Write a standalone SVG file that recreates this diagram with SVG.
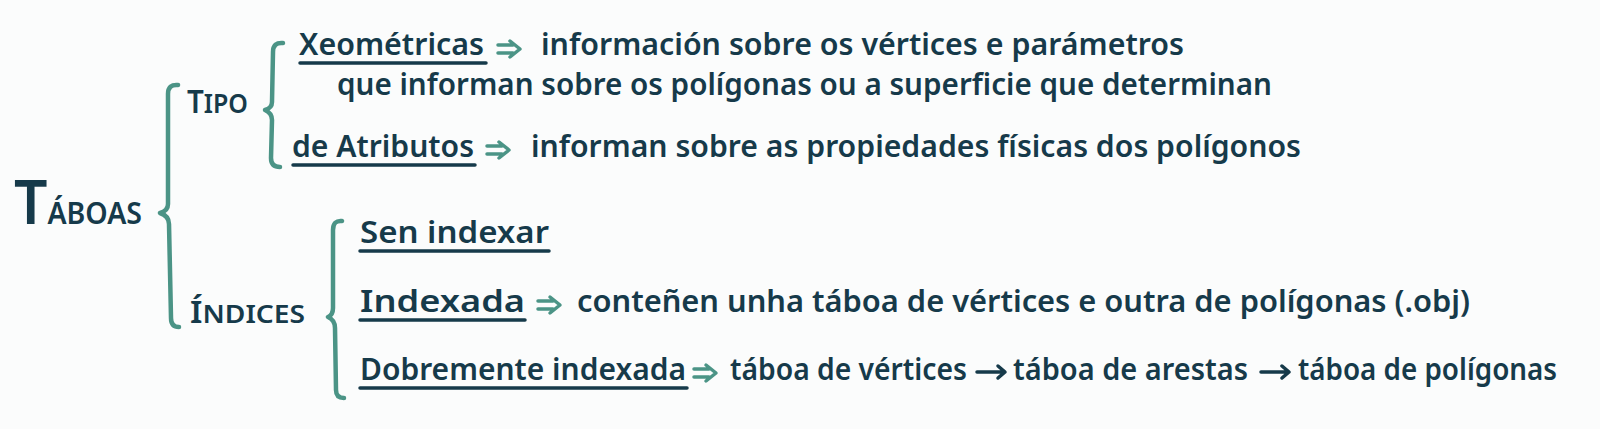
<svg xmlns="http://www.w3.org/2000/svg" width="1600" height="429" viewBox="0 0 1600 429">
  <style>
    .t { font-family: "Noto Sans", "Liberation Sans", sans-serif; font-weight: 600; fill: #163a4a; font-size: 30px; }
    .ul { stroke: #163a4a; stroke-width: 3.5; stroke-linecap: round; fill: none; }
    .br { stroke: #4b9486; stroke-width: 4.5; stroke-linecap: round; stroke-linejoin: round; fill: none; }
    .dar { stroke: #4b9486; stroke-width: 3.5; stroke-linecap: round; stroke-linejoin: round; fill: none; }
    .sar { stroke: #163a4a; stroke-width: 3.5; stroke-linecap: round; stroke-linejoin: round; fill: none; }
  </style>
  <defs>
    <g id="dbl">
      <path d="M0,-4 H15 M0,4 H15 M12,-8 L22,0 L12,8" />
    </g>
    <g id="sgl">
      <path d="M0,0 H27 M21,-6 L28,0 L21,6" />
    </g>
  </defs>
  <rect x="0" y="0" width="1600" height="429" fill="#fbfcfc"/>

  <g id="connectors">
    <path class="br" d="M178,85 Q168,84 168,94 L168,204 Q168,211 160,213 Q169,216 169,224 L171,318 Q171,327 179,327"/>
    <path class="br" d="M283,43 Q273,42 273,52 L272,102 Q272,108 265,110 Q272,113 272,120 L271,158 Q271,167 280,167"/>
    <path class="br" d="M342,221 Q333,220 333,230 L333,308 Q333,315 328,317 Q335,320 335,328 L336,390 Q336,398 344,398"/>
    <use href="#dbl" class="dar" x="498" y="49"/>
    <use href="#dbl" class="dar" x="487" y="150"/>
    <use href="#dbl" class="dar" x="538" y="305"/>
    <use href="#dbl" class="dar" x="694" y="373"/>
    <use href="#sgl" class="sar" x="977" y="372"/>
    <use href="#sgl" class="sar" x="1261" y="372"/>
  </g>

  <g id="taboas">
    <text class="t" x="14" y="224" textLength="128" lengthAdjust="spacingAndGlyphs"><tspan font-size="62">T</tspan><tspan font-size="30">ÁBOAS</tspan></text>
  </g>

  <g id="tipo">
    <text class="t" x="187" y="113" textLength="61" lengthAdjust="spacingAndGlyphs"><tspan font-size="32">T</tspan><tspan font-size="27">IPO</tspan></text>
  </g>

  <g id="indices">
    <text class="t" x="190" y="323" textLength="115" lengthAdjust="spacingAndGlyphs"><tspan font-size="31">Í</tspan><tspan font-size="26">NDICES</tspan></text>
  </g>

  <g id="xeometricas">
    <text class="t" x="299" y="55" textLength="185" lengthAdjust="spacingAndGlyphs">Xeométricas</text>
    <line class="ul" x1="300" y1="63" x2="486" y2="63"/>
    <text class="t" x="541" y="55" textLength="643" lengthAdjust="spacingAndGlyphs">información sobre os vértices e parámetros</text>
    <text class="t" x="337" y="95" textLength="935" lengthAdjust="spacingAndGlyphs">que informan sobre os polígonas ou a superficie que determinan</text>
  </g>

  <g id="atributos">
    <text class="t" x="292" y="157" textLength="182" lengthAdjust="spacingAndGlyphs">de Atributos</text>
    <line class="ul" x1="293" y1="165" x2="475" y2="165"/>
    <text class="t" x="531" y="157" textLength="770" lengthAdjust="spacingAndGlyphs">informan sobre as propiedades físicas dos polígonos</text>
  </g>

  <g id="sen-indexar">
    <text class="t" x="360" y="243" textLength="189" lengthAdjust="spacingAndGlyphs">Sen indexar</text>
    <line class="ul" x1="360" y1="251" x2="549" y2="251"/>
  </g>

  <g id="indexada">
    <text class="t" x="360" y="312" textLength="165" lengthAdjust="spacingAndGlyphs">Indexada</text>
    <line class="ul" x1="360" y1="320" x2="525" y2="320"/>
    <text class="t" x="577" y="312" textLength="893" lengthAdjust="spacingAndGlyphs">conteñen unha táboa de vértices e outra de polígonas (.obj)</text>
  </g>

  <g id="dobremente">
    <text class="t" x="360" y="380" textLength="326" lengthAdjust="spacingAndGlyphs">Dobremente indexada</text>
    <line class="ul" x1="360" y1="388" x2="687" y2="388"/>
    <text class="t" x="730" y="380" textLength="237" lengthAdjust="spacingAndGlyphs">táboa de vértices</text>
    <text class="t" x="1013" y="380" textLength="235" lengthAdjust="spacingAndGlyphs">táboa de arestas</text>
    <text class="t" x="1298" y="380" textLength="259" lengthAdjust="spacingAndGlyphs">táboa de polígonas</text>
  </g>
</svg>
